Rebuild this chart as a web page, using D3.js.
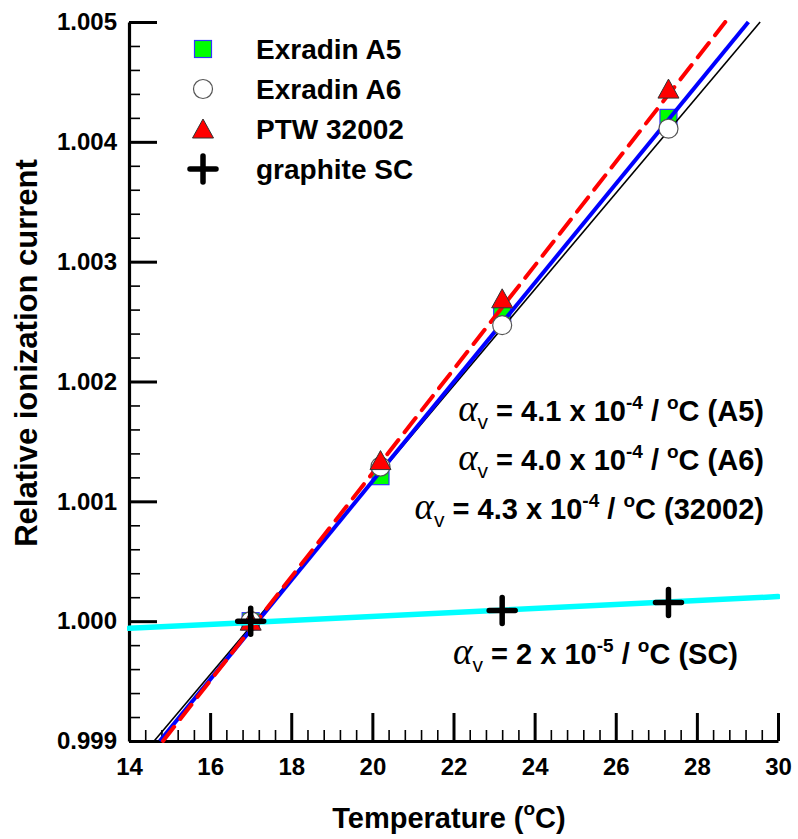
<!DOCTYPE html>
<html>
<head>
<meta charset="utf-8">
<script src="https://cdn.jsdelivr.net/npm/d3@7"></script>
<style>
  body { margin: 0; background: #fff; }
  text { font-family: "Liberation Sans", Arial, sans-serif; font-weight: bold; }
</style>
</head>
<body>
<div id="chart"></div>
<script>
// measured points
var temps = [17.0, 20.2, 23.2, 27.3];
var exradinA5 = [1.0000, 1.00121, 1.00255, 1.00420];
var exradinA6 = [1.0000, 1.00129, 1.00247, 1.00411];
var ptw32002 = [1.0000, 1.00134, 1.00269, 1.00444];
var scTemps = [17.0, 23.2, 27.3];
var graphiteSC = [1.0000, 1.000088, 1.000155];

// fitted lines (end points)
var fitA5 = [[14.76, 0.999], [29.27, 1.005]];
var fitA6 = [[14.62, 0.999], [29.56, 1.005]];
var fitPTW = [[14.84, 0.999], [28.70, 1.005]];
var fitSC = [[14.0, 0.99994], [30.0, 1.000205]];

var xTicks = [14, 16, 18, 20, 22, 24, 26, 28, 30];
var yTicks = [0.999, 1.000, 1.001, 1.002, 1.003, 1.004, 1.005];

var legendNames = ["Exradin A5", "Exradin A6", "PTW 32002", "graphite SC"];
var notes = [
  {val: "4.1", exp: "-4", tag: "(A5)"},
  {val: "4.0", exp: "-4", tag: "(A6)"},
  {val: "4.3", exp: "-4", tag: "(32002)"}
];
var noteSC = {val: "2", exp: "-5", tag: "(SC)"};

var tot_width = 798, tot_height = 839;
var margin = {top: 22, right: 20, bottom: 98, left: 129};

var svg = d3.select("#chart").append("svg")
  .attr("width", tot_width).attr("height", tot_height);
var width = 778 - margin.left,
    height = 741 - margin.top;
var g = svg.append("g").attr("transform", "translate(" + margin.left + "," + margin.top + ")");

var x = d3.scaleLinear().domain([14, 30]).range([0, width]);
var y = d3.scaleLinear().domain([0.999, 1.005]).range([height, 0]);

// minor ticks
var xMinor = d3.range(14, 30.001, 0.4).filter(function(v) { return Math.abs(v / 2 - Math.round(v / 2)) > 0.01; });
var yMinor = d3.range(0.999, 1.00501, 0.0002).filter(function(v) { return Math.abs(v * 1000 - Math.round(v * 1000)) > 0.01; });

g.append("g").attr("class", "x-minor")
  .attr("transform", "translate(0," + height + ")")
  .call(d3.axisBottom(x).tickValues(xMinor).tickFormat("").tickSize(-11).tickSizeOuter(0))
  .call(function(a) { a.select(".domain").remove(); a.selectAll("line").attr("stroke-width", 1.6); });
g.append("g").attr("class", "y-minor")
  .call(d3.axisLeft(y).tickValues(yMinor).tickFormat("").tickSize(-11).tickSizeOuter(0))
  .call(function(a) { a.select(".domain").remove(); a.selectAll("line").attr("stroke-width", 1.6); });

// major axes
var xAxis = g.append("g").attr("class", "x-axis")
  .attr("transform", "translate(0," + height + ")")
  .call(d3.axisBottom(x).tickValues(xTicks).tickFormat(d3.format("d")).tickSize(-28).tickSizeOuter(0).tickPadding(18));
var yAxis = g.append("g").attr("class", "y-axis")
  .call(d3.axisLeft(y).tickValues(yTicks).tickFormat(d3.format(".3f")).tickSize(-28).tickSizeOuter(0).tickPadding(12));
[xAxis, yAxis].forEach(function(a) {
  a.select(".domain").attr("stroke-width", 3.2);
  a.selectAll(".tick line").attr("stroke-width", 3);
  a.selectAll(".tick text").attr("font-size", 24).attr("fill", "#000")
    .style("font-family", "'Liberation Sans', Arial, sans-serif").style("font-weight", "bold");
});
xAxis.selectAll(".tick text").attr("dy", "0.66em");

svg.append("clipPath").attr("id", "plotclip").append("rect")
  .attr("x", -2).attr("y", -2).attr("width", width + 4).attr("height", height + 4);
var plot = g.append("g").attr("clip-path", "url(#plotclip)");

var line = d3.line().x(function(d) { return x(d[0]); }).y(function(d) { return y(d[1]); });

function square(sel, cx, cy) {
  sel.append("rect").attr("x", cx - 8.5).attr("y", cy - 8.5).attr("width", 17).attr("height", 17)
    .attr("fill", "#00ff00").attr("stroke", "#3333ff").attr("stroke-width", 1.2);
}
function circle(sel, cx, cy) {
  sel.append("circle").attr("cx", cx).attr("cy", cy).attr("r", 9.5)
    .attr("fill", "#fff").attr("stroke", "#555").attr("stroke-width", 1.2);
}
function triangle(sel, cx, cy) {
  sel.append("path").attr("d", "M" + cx + "," + (cy - 10) + "L" + (cx + 10.5) + "," + (cy + 9) + "L" + (cx - 10.5) + "," + (cy + 9) + "Z")
    .attr("fill", "#ff0000").attr("stroke", "#333").attr("stroke-width", 1);
}
function plus(sel, cx, cy) {
  sel.append("path").attr("d", "M" + (cx - 13) + "," + cy + "H" + (cx + 13) + "M" + cx + "," + (cy - 13) + "V" + (cy + 13))
    .attr("stroke", "#000").attr("stroke-width", 5.5).attr("stroke-linecap", "round").attr("fill", "none");
}

// squares under the lines
temps.forEach(function(t, i) { square(plot, x(t), y(exradinA5[i])); });

plot.append("path").datum(fitA6).attr("d", line).attr("fill", "none").attr("stroke", "#000").attr("stroke-width", 1.6);
plot.append("path").datum(fitA5).attr("d", line).attr("fill", "none").attr("stroke", "#0000ff").attr("stroke-width", 4);
plot.append("path").datum(fitPTW).attr("d", line).attr("fill", "none").attr("stroke", "#ff0000").attr("stroke-width", 4)
  .attr("stroke-dasharray", "18,10").attr("stroke-linecap", "round");

temps.forEach(function(t, i) { circle(plot, x(t), y(exradinA6[i])); });
temps.forEach(function(t, i) { triangle(plot, x(t), y(ptw32002[i])); });

plot.append("path").datum(fitSC).attr("d", line).attr("fill", "none").attr("stroke", "#00ffff").attr("stroke-width", 5.5)
  .attr("stroke-linecap", "round");
scTemps.forEach(function(t, i) { plus(plot, x(t), y(graphiteSC[i])); });

// legend
var markers = [square, circle, triangle, plus];
legendNames.forEach(function(name, i) {
  var ly = 49 + i * 40;
  markers[i](svg, 203, ly);
  svg.append("text").attr("x", 256).attr("y", ly).attr("dy", "0.36em")
    .attr("font-size", 28).text(name);
});

// annotations
function note(n, xr, yb) {
  var t = svg.append("text").attr("x", xr).attr("y", yb).attr("text-anchor", "end").attr("font-size", 29);
  t.append("tspan").style("font-family", "'Liberation Serif', 'Times New Roman', serif").style("font-style", "italic")
    .style("font-weight", "normal").attr("font-size", 37).text("\u03b1");
  t.append("tspan").attr("font-size", 21).attr("dy", 8).style("font-weight", "normal").text("v");
  t.append("tspan").attr("dy", -8).text(" = " + n.val + " x 10");
  t.append("tspan").attr("font-size", 19).attr("dy", -12).text(n.exp);
  t.append("tspan").attr("dy", 12).text(" / ");
  t.append("tspan").attr("font-size", 19).attr("dy", -12).text("o");
  t.append("tspan").attr("dy", 12).text("C " + n.tag);
}
notes.forEach(function(n, i) { note(n, 764, 421 + i * 49); });
note(noteSC, 738, 664);

// axis titles
svg.append("text").attr("x", 449).attr("y", 828).attr("text-anchor", "middle").attr("font-size", 29)
  .call(function(t) {
    t.append("tspan").text("Temperature (");
    t.append("tspan").attr("font-size", 19).attr("dy", -13).text("o");
    t.append("tspan").attr("dy", 13).text("C)");
  });
svg.append("text").attr("transform", "translate(37,353) rotate(-90)").attr("text-anchor", "middle")
  .attr("font-size", 31).text("Relative ionization current");
</script>
</body>
</html>
